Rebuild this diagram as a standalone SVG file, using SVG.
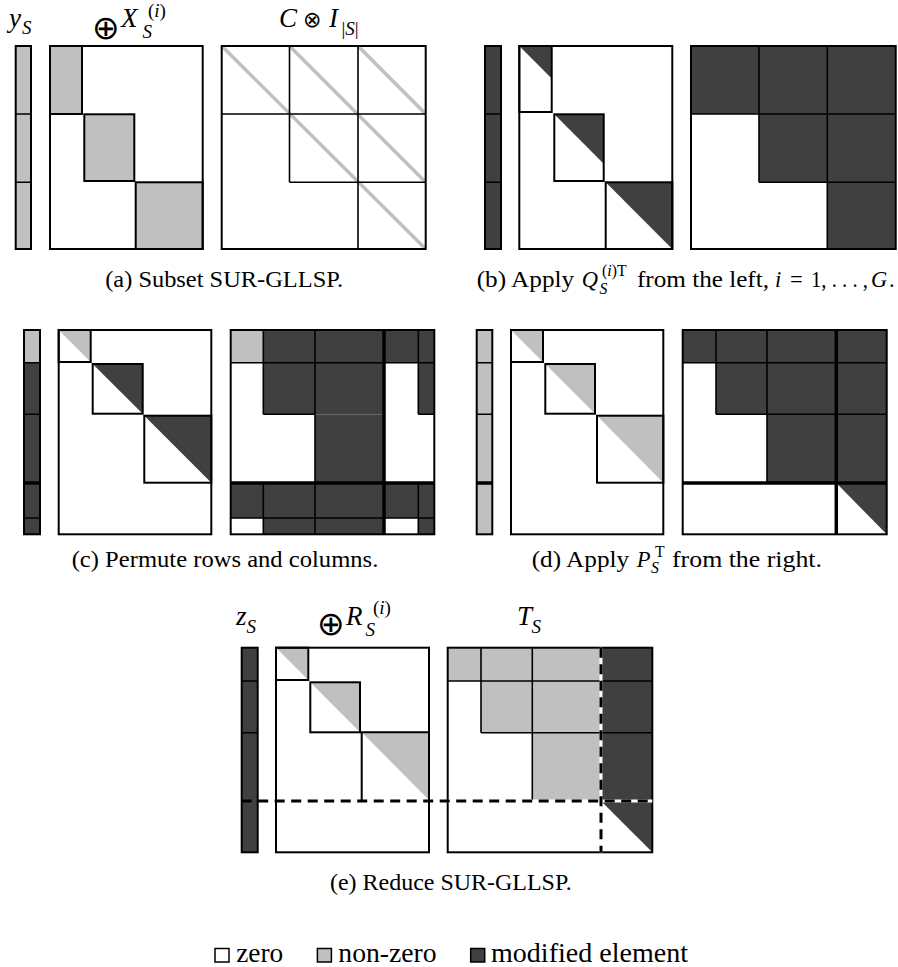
<svg xmlns="http://www.w3.org/2000/svg" width="898" height="967" viewBox="0 0 898 967">
<style>
.nz{fill:#c0c0c0}
.md{fill:#404040}
.wh{fill:#fff}
.ln{stroke:#000;stroke-width:2;fill:none}
.tn{stroke:#000;stroke-width:1.6;fill:none}
.tk{stroke:#000;stroke-width:3.5;fill:none}
.dg{stroke:#c0c0c0;stroke-width:3.5;fill:none}
.ds{stroke:#000;stroke-width:3;stroke-dasharray:10 6.5;fill:none}
.du{stroke:#fff;stroke-width:3;fill:none}
text{font-family:'Liberation Serif','Times New Roman','DejaVu Serif',serif;fill:#000}
.cap{font-size:22.5px}
.csub{font-size:15.75px}
.it{font-style:italic}
.lb{font-size:27px;font-style:italic}
.sc{font-size:19px}
.op{font-family:'DejaVu Sans',sans-serif}
.big{font-size:33px}
.lg{font-size:26.5px}
.key{stroke:#000;stroke-width:1.5}
</style>

<!-- Panel (a) -->
<g id="panel-a">
  <g id="a-labels">
    <text class="lb" x="9" y="27">y</text>
    <text class="sc it" x="22" y="34">S</text>
    <text class="op big" x="92" y="38.5">⊕</text>
    <text class="lb" x="121" y="27" font-size="30">X</text>
    <text class="sc" x="148" y="16.5">(<tspan class="it">i</tspan>)</text>
    <text class="sc it" x="142.5" y="38">S</text>
    <text class="lb" x="279" y="27">C</text>
    <text class="op" x="303" y="27" font-size="22">⊗</text>
    <text class="lb" x="329" y="27" font-size="29">I</text>
    <text class="sc" x="341.5" y="35">|<tspan class="it">S</tspan>|</text>
  </g>
  <g id="a-yS">
    <rect x="15.7" y="46" width="15.3" height="203" class="nz"/>
    <path d="M15.7 114H31M15.7 182.3H31" class="tn"/>
    <rect x="15.7" y="46" width="15.3" height="203" class="ln"/>
  </g>
  <g id="a-X">
    <rect x="50" y="46" width="152.7" height="203" class="wh"/>
    <rect x="50" y="46" width="32" height="68" class="nz"/>
    <rect x="84.3" y="114.3" width="50" height="66.7" class="nz"/>
    <rect x="135.7" y="182.3" width="67" height="66.7" class="nz"/>
    <path d="M82 46V114H50" class="ln"/>
    <rect x="84.3" y="114.3" width="50" height="66.7" class="ln"/>
    <rect x="135.7" y="182.3" width="67" height="66.7" class="ln"/>
    <rect x="50" y="46" width="152.7" height="203" class="ln"/>
  </g>
  <g id="a-CI">
    <rect x="221.7" y="46" width="204" height="203" class="wh"/>
    <path d="M221.7 46L425.7 249M289.5 46L425.7 182.3M358 46L425.7 114" class="dg"/>
    <path d="M221.7 114H425.7M289.5 182.3H425.7M289.5 46V182.3M358 46V249" class="tn"/>
    <rect x="221.7" y="46" width="204" height="203" class="ln"/>
  </g>
  <text class="cap" x="224.2" y="287" text-anchor="middle" textLength="238" lengthAdjust="spacingAndGlyphs">(a) Subset SUR-GLLSP.</text>
</g>

<!-- Panel (b) -->
<g id="panel-b">
  <g id="b-yS">
    <rect x="485" y="46" width="16" height="203" class="md"/>
    <path d="M485 114H501M485 182.3H501" class="tn"/>
    <rect x="485" y="46" width="16" height="203" class="ln"/>
  </g>
  <g id="b-X">
    <rect x="519.3" y="46" width="153" height="203" class="wh"/>
    <polygon points="519.3,46 551.7,46 551.7,78.4" class="md"/>
    <polygon points="554.3,114.3 603.7,114.3 603.7,163.7" class="md"/>
    <polygon points="605.7,182.3 672.3,182.3 672.3,249" class="md"/>
    <rect x="519.3" y="46" width="32.4" height="66" class="ln"/>
    <rect x="554.3" y="114.3" width="49.4" height="66.7" class="ln"/>
    <rect x="605.7" y="182.3" width="66.6" height="66.7" class="ln"/>
    <rect x="519.3" y="46" width="153" height="203" class="ln"/>
  </g>
  <g id="b-C">
    <rect x="691" y="46" width="204.7" height="203" class="wh"/>
    <path d="M691 46H895.7V249H827.3V182.3H759V114H691Z" class="md"/>
    <path d="M691 114H895.7M759 182.3H895.7M759 46V182.3M827.3 46V249" class="tn"/>
    <rect x="691" y="46" width="204.7" height="203" class="ln"/>
  </g>
  <g id="b-caption">
    <text class="cap" x="476.7" y="287" textLength="97.5" lengthAdjust="spacingAndGlyphs">(b) Apply</text>
    <text class="cap it" x="581.7" y="287">Q</text>
    <text class="csub" x="602" y="276">(<tspan class="it">i</tspan>)T</text>
    <text class="csub it" x="599.5" y="293.5">S</text>
    <text class="cap" x="637" y="287" textLength="132" lengthAdjust="spacingAndGlyphs">from the left,</text>
    <text class="cap it" x="775" y="287">i</text>
    <text class="cap" x="790" y="287">=</text>
    <text class="cap" x="811" y="287" textLength="57" lengthAdjust="spacingAndGlyphs">1, . . . ,</text>
    <text class="cap it" x="871" y="287">G</text>
    <text class="cap" x="889" y="287">.</text>
  </g>
</g>

<!-- Panel (c) -->
<g id="panel-c">
  <g id="c-yS">
    <rect x="24" y="330" width="16" height="32.7" class="nz"/>
    <rect x="24" y="362.7" width="16" height="171.6" class="md"/>
    <path d="M24 362.7H40M24 414.3H40M24 518H40" class="tn"/>
    <path d="M24 483H40" class="tk"/>
    <rect x="24" y="330" width="16" height="204.3" class="ln"/>
  </g>
  <g id="c-X">
    <rect x="58.7" y="330" width="152.6" height="204.3" class="wh"/>
    <polygon points="58.7,330 90.7,330 90.7,362" class="nz"/>
    <polygon points="92.7,364 142.7,364 142.7,413.7" class="md"/>
    <polygon points="144.3,415.7 211.3,415.7 211.3,482.7" class="md"/>
    <rect x="58.7" y="330" width="32" height="32" class="ln"/>
    <rect x="92.7" y="364" width="50" height="49.7" class="ln"/>
    <rect x="144.3" y="415.7" width="67" height="67" class="ln"/>
    <rect x="58.7" y="330" width="152.6" height="204.3" class="ln"/>
  </g>
  <g id="c-C">
    <rect x="230.7" y="330" width="203.6" height="204.3" class="wh"/>
    <rect x="230.7" y="330" width="32.6" height="32.7" class="nz"/>
    <rect x="263.3" y="330" width="171" height="32.7" class="md"/>
    <rect x="263.3" y="362.7" width="120.7" height="51.6" class="md"/>
    <rect x="418.3" y="362.7" width="16" height="51.6" class="md"/>
    <rect x="315" y="414.3" width="69" height="68.7" class="md"/>
    <rect x="230.7" y="483" width="203.6" height="35" class="md"/>
    <rect x="263.3" y="518" width="120.7" height="16.3" class="md"/>
    <rect x="418.3" y="518" width="16" height="16.3" class="md"/>
    <path d="M263.3 330V414.3M263.3 483V534.3M315 330V534.3M418.3 330V414.3M418.3 483V534.3M230.7 362.7H434.3M263.3 414.3H315M418.3 414.3H434.3M230.7 518H434.3" class="tn"/>
    <path d="M384 330V534.3M230.7 483H434.3" class="tk"/>
    <rect x="230.7" y="330" width="203.6" height="204.3" class="ln"/>
  </g>
  <text class="cap" x="225" y="566.7" text-anchor="middle" textLength="306.6" lengthAdjust="spacingAndGlyphs">(c) Permute rows and columns.</text>
</g>

<!-- Panel (d) -->
<g id="panel-d">
  <g id="d-yS">
    <rect x="476.7" y="330" width="15.6" height="204.3" class="nz"/>
    <path d="M476.7 362.7H492.3M476.7 414.3H492.3" class="tn"/>
    <path d="M476.7 483H492.3" class="tk"/>
    <rect x="476.7" y="330" width="15.6" height="204.3" class="ln"/>
  </g>
  <g id="d-X">
    <rect x="511" y="330" width="152.3" height="204.3" class="wh"/>
    <polygon points="511,330 543,330 543,362" class="nz"/>
    <polygon points="545.3,364 595,364 595,413.7" class="nz"/>
    <polygon points="597,415.7 663.3,415.7 663.3,482.7" class="nz"/>
    <rect x="511" y="330" width="32" height="32" class="ln"/>
    <rect x="545.3" y="364" width="49.7" height="49.7" class="ln"/>
    <rect x="597" y="415.7" width="66.3" height="67" class="ln"/>
    <rect x="511" y="330" width="152.3" height="204.3" class="ln"/>
  </g>
  <g id="d-C">
    <rect x="682.7" y="330" width="204" height="204.3" class="wh"/>
    <path d="M682.7 330H886.7V483H767V414.3H716V362.7H682.7Z" class="md"/>
    <polygon points="836.3,483 886.7,483 886.7,534.3" class="md"/>
    <path d="M716 330V414.3M767 330V483M682.7 362.7H886.7M716 414.3H886.7" class="tn"/>
    <path d="M836.3 330V534.3M682.7 483H886.7" class="tk"/>
    <rect x="682.7" y="330" width="204" height="204.3" class="ln"/>
  </g>
  <g id="d-caption">
    <text class="cap" x="531.7" y="566.7" textLength="97.5" lengthAdjust="spacingAndGlyphs">(d) Apply</text>
    <text class="cap it" x="636.7" y="566.7">P</text>
    <text class="csub" x="655" y="556.5">T</text>
    <text class="csub it" x="651" y="573">S</text>
    <text class="cap" x="672" y="566.7" textLength="150" lengthAdjust="spacingAndGlyphs">from the right.</text>
  </g>
</g>

<!-- Panel (e) -->
<g id="panel-e">
  <g id="e-labels">
    <text class="lb" x="236" y="625">z</text>
    <text class="sc it" x="246.5" y="633">S</text>
    <text class="op big" x="317" y="635">⊕</text>
    <text class="lb" x="346" y="625" font-size="30">R</text>
    <text class="sc" x="373" y="614">(<tspan class="it">i</tspan>)</text>
    <text class="sc it" x="365.5" y="636">S</text>
    <text class="lb" x="517" y="625">T</text>
    <text class="sc it" x="531.5" y="633">S</text>
  </g>
  <g id="e-zS">
    <rect x="241.7" y="647.7" width="16" height="204.6" class="md"/>
    <path d="M241.7 681H257.7M241.7 732.7H257.7" class="tn"/>
    <rect x="241.7" y="647.7" width="16" height="204.6" class="ln"/>
  </g>
  <g id="e-R">
    <rect x="276" y="647.7" width="153" height="204.6" class="wh"/>
    <polygon points="276,647.7 308.3,647.7 308.3,680" class="nz"/>
    <polygon points="310.3,682.3 360,682.3 360,732.3" class="nz"/>
    <polygon points="361.7,732.3 429,732.3 429,800" class="nz"/>
    <rect x="276" y="647.7" width="32.3" height="32.3" class="ln"/>
    <rect x="310.3" y="682.3" width="49.7" height="50" class="ln"/>
    <path d="M429 732.3H361.7V800" class="ln"/>
    <rect x="276" y="647.7" width="153" height="204.6" class="ln"/>
  </g>
  <g id="e-T">
    <rect x="447.7" y="647.7" width="204.6" height="204.6" class="wh"/>
    <path d="M447.7 647.7H601V801H532.3V732.7H481V681H447.7Z" class="nz"/>
    <rect x="601" y="647.7" width="51.3" height="153.3" class="md"/>
    <polygon points="601,801 652.3,801 652.3,852.3" class="md"/>
    <path d="M447.7 681H652.3M481 647.7V732.7M532.3 647.7V801M481 732.7H652.3" class="tn"/>
    <rect x="447.7" y="647.7" width="204.6" height="204.6" class="ln"/>
  </g>
  <g id="e-partition">
    <path d="M601 647.7V852.3M447.7 801H652.3" class="du"/>
    <path d="M241.7 801H652.3M601 647.7V852.3" class="ds"/>
  </g>
  <text class="cap" x="450.8" y="890" text-anchor="middle" textLength="241.7" lengthAdjust="spacingAndGlyphs">(e) Reduce SUR-GLLSP.</text>
</g>

<!-- Legend -->
<g id="legend">
  <rect x="215" y="948.5" width="14" height="13.5" fill="#fff" class="key"/>
  <text class="lg" x="236.2" y="961.7" textLength="47" lengthAdjust="spacingAndGlyphs">zero</text>
  <rect x="317.4" y="948.5" width="14" height="13.5" class="nz key"/>
  <text class="lg" x="338.3" y="961.7" textLength="98.4" lengthAdjust="spacingAndGlyphs">non-zero</text>
  <rect x="470.7" y="948.5" width="14" height="13.5" class="md key"/>
  <text class="lg" x="491" y="961.7" textLength="197" lengthAdjust="spacingAndGlyphs">modified element</text>
</g>
</svg>
